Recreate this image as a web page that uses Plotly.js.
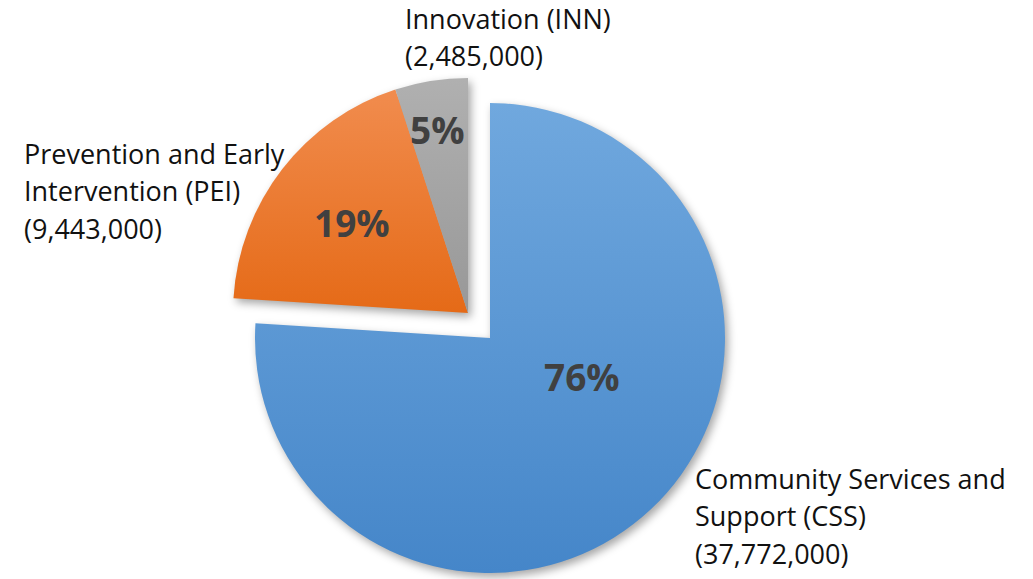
<!DOCTYPE html>
<html>
<head>
<meta charset="utf-8">
<script src="https://cdn.plot.ly/plotly-3.0.1.min.js"></script>
<style>
html,body{margin:0;padding:0;background:#fff;}
#chart{width:1033px;height:579px;}
.pielayer .trace{filter:drop-shadow(3px 4px 4px rgba(0,0,0,0.35));}
</style>
</head>
<body>
<div id="chart"></div>
<script>
// ---- data ----
const categories = ['Community Services and Support (CSS)', 'Prevention and Early Intervention (PEI)', 'Innovation (INN)'];
const values = [37772000, 9443000, 2485000];
const labelLines = [['Community Services and', 'Support (CSS)'], ['Prevention and Early', 'Intervention (PEI)'], ['Innovation (INN)']];
const colors = ['#5B9BD5', '#ED7D31', '#A5A5A5'];
const gradTop = ['#70A8DE', '#F18C4E', '#B0B0B0'];
const gradBottom = ['#4586C9', '#E56A17', '#989898'];
const exploded = [false, true, true];

const W = 1033, H = 579;
const total = values.reduce((a, b) => a + b, 0);
const pct = values.map(v => Math.round(v / total * 100) + '%');
const money = values.map(v => '(' + v.toLocaleString('en-US') + ')');

// geometry (pixels)
const R = 235;
const mainC = [490, 338];
const explC = [468, 313];
function dom(c) {
  return {
    x: [(c[0] - R) / W, (c[0] + R) / W],
    y: [(H - c[1] - R) / H, (H - c[1] + R) / H]
  };
}
const clear = 'rgba(0,0,0,0)';

const traceMain = {
  type: 'pie', values: values, labels: categories, sort: false,
  direction: 'clockwise', rotation: 0, textinfo: 'none', hoverinfo: 'skip',
  marker: {colors: colors.map((c, i) => exploded[i] ? clear : c), line: {width: 0}},
  domain: dom(mainC), showlegend: false
};
const traceExpl = {
  type: 'pie', values: values, labels: categories, sort: false,
  direction: 'clockwise', rotation: 0, textinfo: 'none', hoverinfo: 'skip',
  marker: {colors: colors.map((c, i) => exploded[i] ? c : clear), line: {width: 0}},
  domain: dom(explC), showlegend: false
};

function px(x, y) { return {xref: 'paper', yref: 'paper', x: x / W, y: 1 - y / H}; }

const pctPos = [[582, 376], [352, 222], [437, 129]];
const labelPos = [[693, 478], [22, 153], [403, 18]];
const lineGap = 37.5;
const annotations = [];
values.forEach((v, i) => {
  annotations.push(Object.assign(px(pctPos[i][0], pctPos[i][1]), {
    text: pct[i], showarrow: false, xanchor: 'center', yanchor: 'middle',
    font: {family: 'Open Sans', size: 37, color: '#404040', weight: 'bold'}
  }));
  labelLines[i].concat([money[i]]).forEach((line, k) => {
    annotations.push(Object.assign(px(labelPos[i][0], labelPos[i][1] + k * lineGap), {
      text: line, showarrow: false, xanchor: 'left', yanchor: 'middle', align: 'left',
      font: {family: 'Open Sans', size: 27, color: '#111111'}
    }));
  });
});

const layout = {
  width: W, height: H, margin: {l: 0, r: 0, t: 0, b: 0},
  paper_bgcolor: '#ffffff', showlegend: false, annotations: annotations
};

Plotly.newPlot('chart', [traceMain, traceExpl], layout, {staticPlot: true}).then(gd => {
  const svg = gd.querySelector('.main-svg');
  const ns = 'http://www.w3.org/2000/svg';
  const defs = document.createElementNS(ns, 'defs');
  colors.forEach((c, i) => {
    const g = document.createElementNS(ns, 'linearGradient');
    g.setAttribute('id', 'grad' + i);
    g.setAttribute('x1', '0'); g.setAttribute('y1', '0');
    g.setAttribute('x2', '0'); g.setAttribute('y2', '1');
    [[0, gradTop[i]], [1, gradBottom[i]]].forEach(s => {
      const st = document.createElementNS(ns, 'stop');
      st.setAttribute('offset', s[0]);
      st.setAttribute('stop-color', s[1]);
      g.appendChild(st);
    });
    defs.appendChild(g);
  });
  svg.insertBefore(defs, svg.firstChild);
  const traces = gd.querySelectorAll('.pielayer .trace');
  traces.forEach((t, ti) => {
    t.querySelectorAll('.slice').forEach((s, si) => {
      const visible = ti === 0 ? !exploded[si] : exploded[si];
      if (visible) {
        const p = s.querySelector('path.surface');
        if (p) p.style.fill = 'url(#grad' + si + ')';
      }
    });
  });
});
</script>
</body>
</html>
